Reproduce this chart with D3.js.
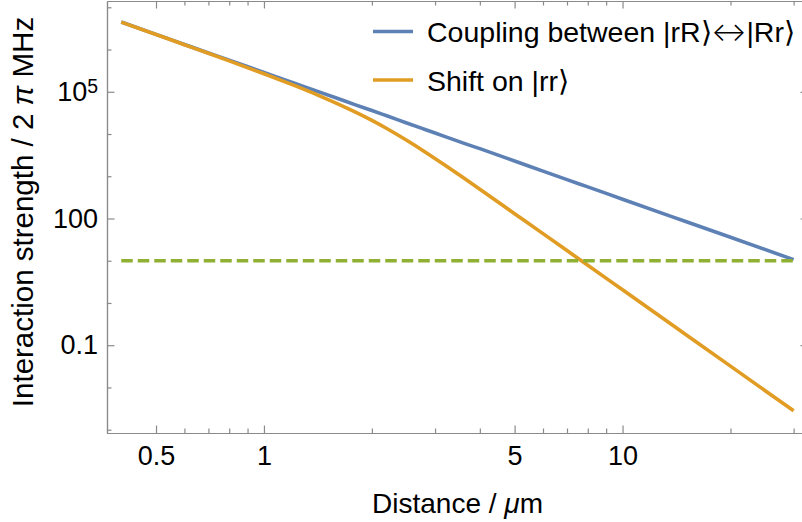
<!DOCTYPE html>
<html>
<head>
<meta charset="utf-8">
<script src="https://cdn.jsdelivr.net/npm/d3@7"></script>
<style>
  body { margin: 0; background: #fff; }
  text { font-family: "Liberation Sans", Arial, sans-serif; fill: #000; }
</style>
</head>
<body>
<script>
// values (distance in um, strength in 2pi MHz)
var distance = [0.4, 0.5, 0.6, 0.7, 0.8, 1, 1.15, 1.3, 1.45, 1.6, 1.8, 2, 2.2, 2.5, 2.8, 3.2, 3.6, 4, 5, 6, 7, 8, 10, 15, 20, 30];
var coupling = [4.47e6, 2.29e6, 1.32e6, 8.3e5, 5.6e5, 2.86e5, 1.88e5, 1.3e5, 9.4e4, 7.0e4, 4.9e4, 3.6e4, 2.7e4, 1.83e4, 1.3e4, 8.7e3, 6.1e3, 4.5e3, 2.3e3, 1.32e3, 830, 560, 286, 85, 36, 10.6];
var shift = [4.45e6, 2.27e6, 1.30e6, 8.14e5, 5.39e5, 2.67e5, 1.69e5, 1.12e5, 7.6e4, 5.26e4, 3.3e4, 2.1e4, 1.35e4, 7.1e3, 3.87e3, 1.82e3, 918, 493, 130, 43.8, 17.4, 7.8, 2.05, 0.18, 0.032, 0.0028];
var thresholdX = [0.4, 30];
var thresholdY = [10, 10];

var xMajor = [0.5, 1, 5, 10];
var xMajorLabels = ["0.5", "1", "5", "10"];
var xMinor = [0.6, 0.7, 0.8, 0.9, 2, 3, 4, 6, 7, 8, 9, 20, 30];
var yMajor = [0.1, 100, 1e5];
var yMajorLabels = ["0.1", "100", "10^5"];
var yMinor = [1e-3, 1e-2, 1, 10, 1e3, 1e4, 1e6, 1e7];

// legend pieces: text, arrow, text
var legendLabels = [["Coupling between |rR\u27E9", "\u2194", "|Rr\u27E9"], ["Shift on |rr\u27E9", "", ""]];
var colors = ["#5E81B5", "#E19C24", "#8FB032"];

var W = 802, H = 522;
var m = {l: 107, r: 808, t: 1, b: 433};
var axisColor = "#8a8a8a";

var svg = d3.select("body").append("svg")
  .attr("width", W)
  .attr("height", H);

svg.append("rect").attr("width", W).attr("height", H).attr("fill", "#fff");

var x = d3.scaleLog().domain([0.365, 32.9]).range([m.l, m.r]);
var y = d3.scaleLog().domain([Math.pow(10, -3.078), Math.pow(10, 7.149)]).range([m.b, m.t]);

// axes: ticks point into the frame
function styleAxis(g) {
  g.selectAll(".domain").attr("stroke", axisColor).attr("stroke-width", 1.2);
  g.selectAll(".tick line").attr("stroke", axisColor).attr("stroke-width", 1.2);
  g.selectAll(".tick text").attr("font-size", 27).attr("font-family", "Liberation Sans, Arial, sans-serif").attr("fill", "#000");
}

svg.append("g").attr("transform", "translate(0," + m.b + ")")
  .call(d3.axisBottom(x).tickValues(xMajor).tickSize(-7.5).tickSizeOuter(0).tickPadding(13)
    .tickFormat(function(d, i) { return xMajorLabels[i]; }))
  .call(styleAxis);
svg.append("g").attr("transform", "translate(0," + m.b + ")")
  .call(d3.axisBottom(x).tickValues(xMinor).tickSize(-4.5).tickSizeOuter(0).tickFormat(""))
  .call(styleAxis);
svg.append("g").attr("transform", "translate(0," + m.t + ")")
  .call(d3.axisTop(x).tickValues(xMajor).tickSize(-7.5).tickSizeOuter(0).tickFormat(""))
  .call(styleAxis);
svg.append("g").attr("transform", "translate(0," + m.t + ")")
  .call(d3.axisTop(x).tickValues(xMinor).tickSize(-4.5).tickSizeOuter(0).tickFormat(""))
  .call(styleAxis);

var leftMajor = svg.append("g").attr("transform", "translate(" + m.l + ",0)")
  .call(d3.axisLeft(y).tickValues(yMajor).tickSize(-7.5).tickSizeOuter(0).tickPadding(9)
    .tickFormat(function(d, i) { return yMajorLabels[i]; }))
  .call(styleAxis);
svg.append("g").attr("transform", "translate(" + m.l + ",0)")
  .call(d3.axisLeft(y).tickValues(yMinor).tickSize(-4.5).tickSizeOuter(0).tickFormat(""))
  .call(styleAxis);
svg.append("g").attr("transform", "translate(" + m.r + ",0)")
  .call(d3.axisRight(y).tickValues(yMajor).tickSize(-7.5).tickSizeOuter(0).tickFormat(""))
  .call(styleAxis);
svg.append("g").attr("transform", "translate(" + m.r + ",0)")
  .call(d3.axisRight(y).tickValues(yMinor).tickSize(-4.5).tickSizeOuter(0).tickFormat(""))
  .call(styleAxis);

// power-of-ten label with superscript
leftMajor.selectAll(".tick text").each(function(d, i) {
  var lab = yMajorLabels[i];
  if (lab.indexOf("^") > 0) {
    var parts = lab.split("^");
    var t = d3.select(this).text(parts[0]);
    t.append("tspan").attr("dy", "-0.42em").attr("font-size", "0.72em").text(parts[1]);
  }
});

svg.append("clipPath").attr("id", "plotclip")
  .append("rect").attr("x", m.l).attr("y", m.t).attr("width", m.r - m.l).attr("height", m.b - m.t);

var plot = svg.append("g").attr("clip-path", "url(#plotclip)");

var line = d3.line()
  .x(function(d) { return x(d[0]); })
  .y(function(d) { return y(d[1]); })
  .curve(d3.curveMonotoneX);

plot.append("path")
  .datum(d3.zip(distance, coupling))
  .attr("d", line)
  .attr("fill", "none")
  .attr("stroke", colors[0])
  .attr("stroke-width", 3.6);

plot.append("path")
  .datum(d3.zip(distance, shift))
  .attr("d", line)
  .attr("fill", "none")
  .attr("stroke", colors[1])
  .attr("stroke-width", 3.6);

plot.append("path")
  .datum(d3.zip(thresholdX, thresholdY))
  .attr("d", line)
  .attr("fill", "none")
  .attr("stroke", colors[2])
  .attr("stroke-width", 3.6)
  .attr("stroke-dasharray", "11.5,5");

// legend
var legend = svg.append("g");
legendLabels.forEach(function(lab, i) {
  var ly = 31.5 + i * 48.5;
  legend.append("line")
    .attr("x1", 373).attr("x2", 413)
    .attr("y1", ly).attr("y2", ly)
    .attr("stroke", colors[i]).attr("stroke-width", 3.6);
  var t = legend.append("text")
    .attr("x", 427).attr("y", ly + 10.5)
    .attr("font-size", 28.5);
  t.append("tspan").text(lab[0]);
  if (lab[1]) {
    t.append("tspan").attr("font-family", "Inter").attr("font-weight", 300).attr("font-size", 26).attr("dy", -1).text(lab[1]);
    t.append("tspan").attr("dy", 1).text(lab[2]);
  }
});

// axis titles
var yTitle = svg.append("text")
  .attr("transform", "translate(33,212) rotate(-90)")
  .attr("text-anchor", "middle")
  .attr("font-size", 29.5);
yTitle.append("tspan").text("Interaction strength / 2 ");
yTitle.append("tspan").attr("font-style", "italic").text("\u03C0");
yTitle.append("tspan").text(" MHz");

var xTitle = svg.append("text")
  .attr("x", (m.l + m.r) / 2)
  .attr("y", 513)
  .attr("text-anchor", "middle")
  .attr("font-size", 28);
xTitle.append("tspan").text("Distance / ");
xTitle.append("tspan").attr("font-style", "italic").text("\u03BC");
xTitle.append("tspan").text("m");
</script>
</body>
</html>
